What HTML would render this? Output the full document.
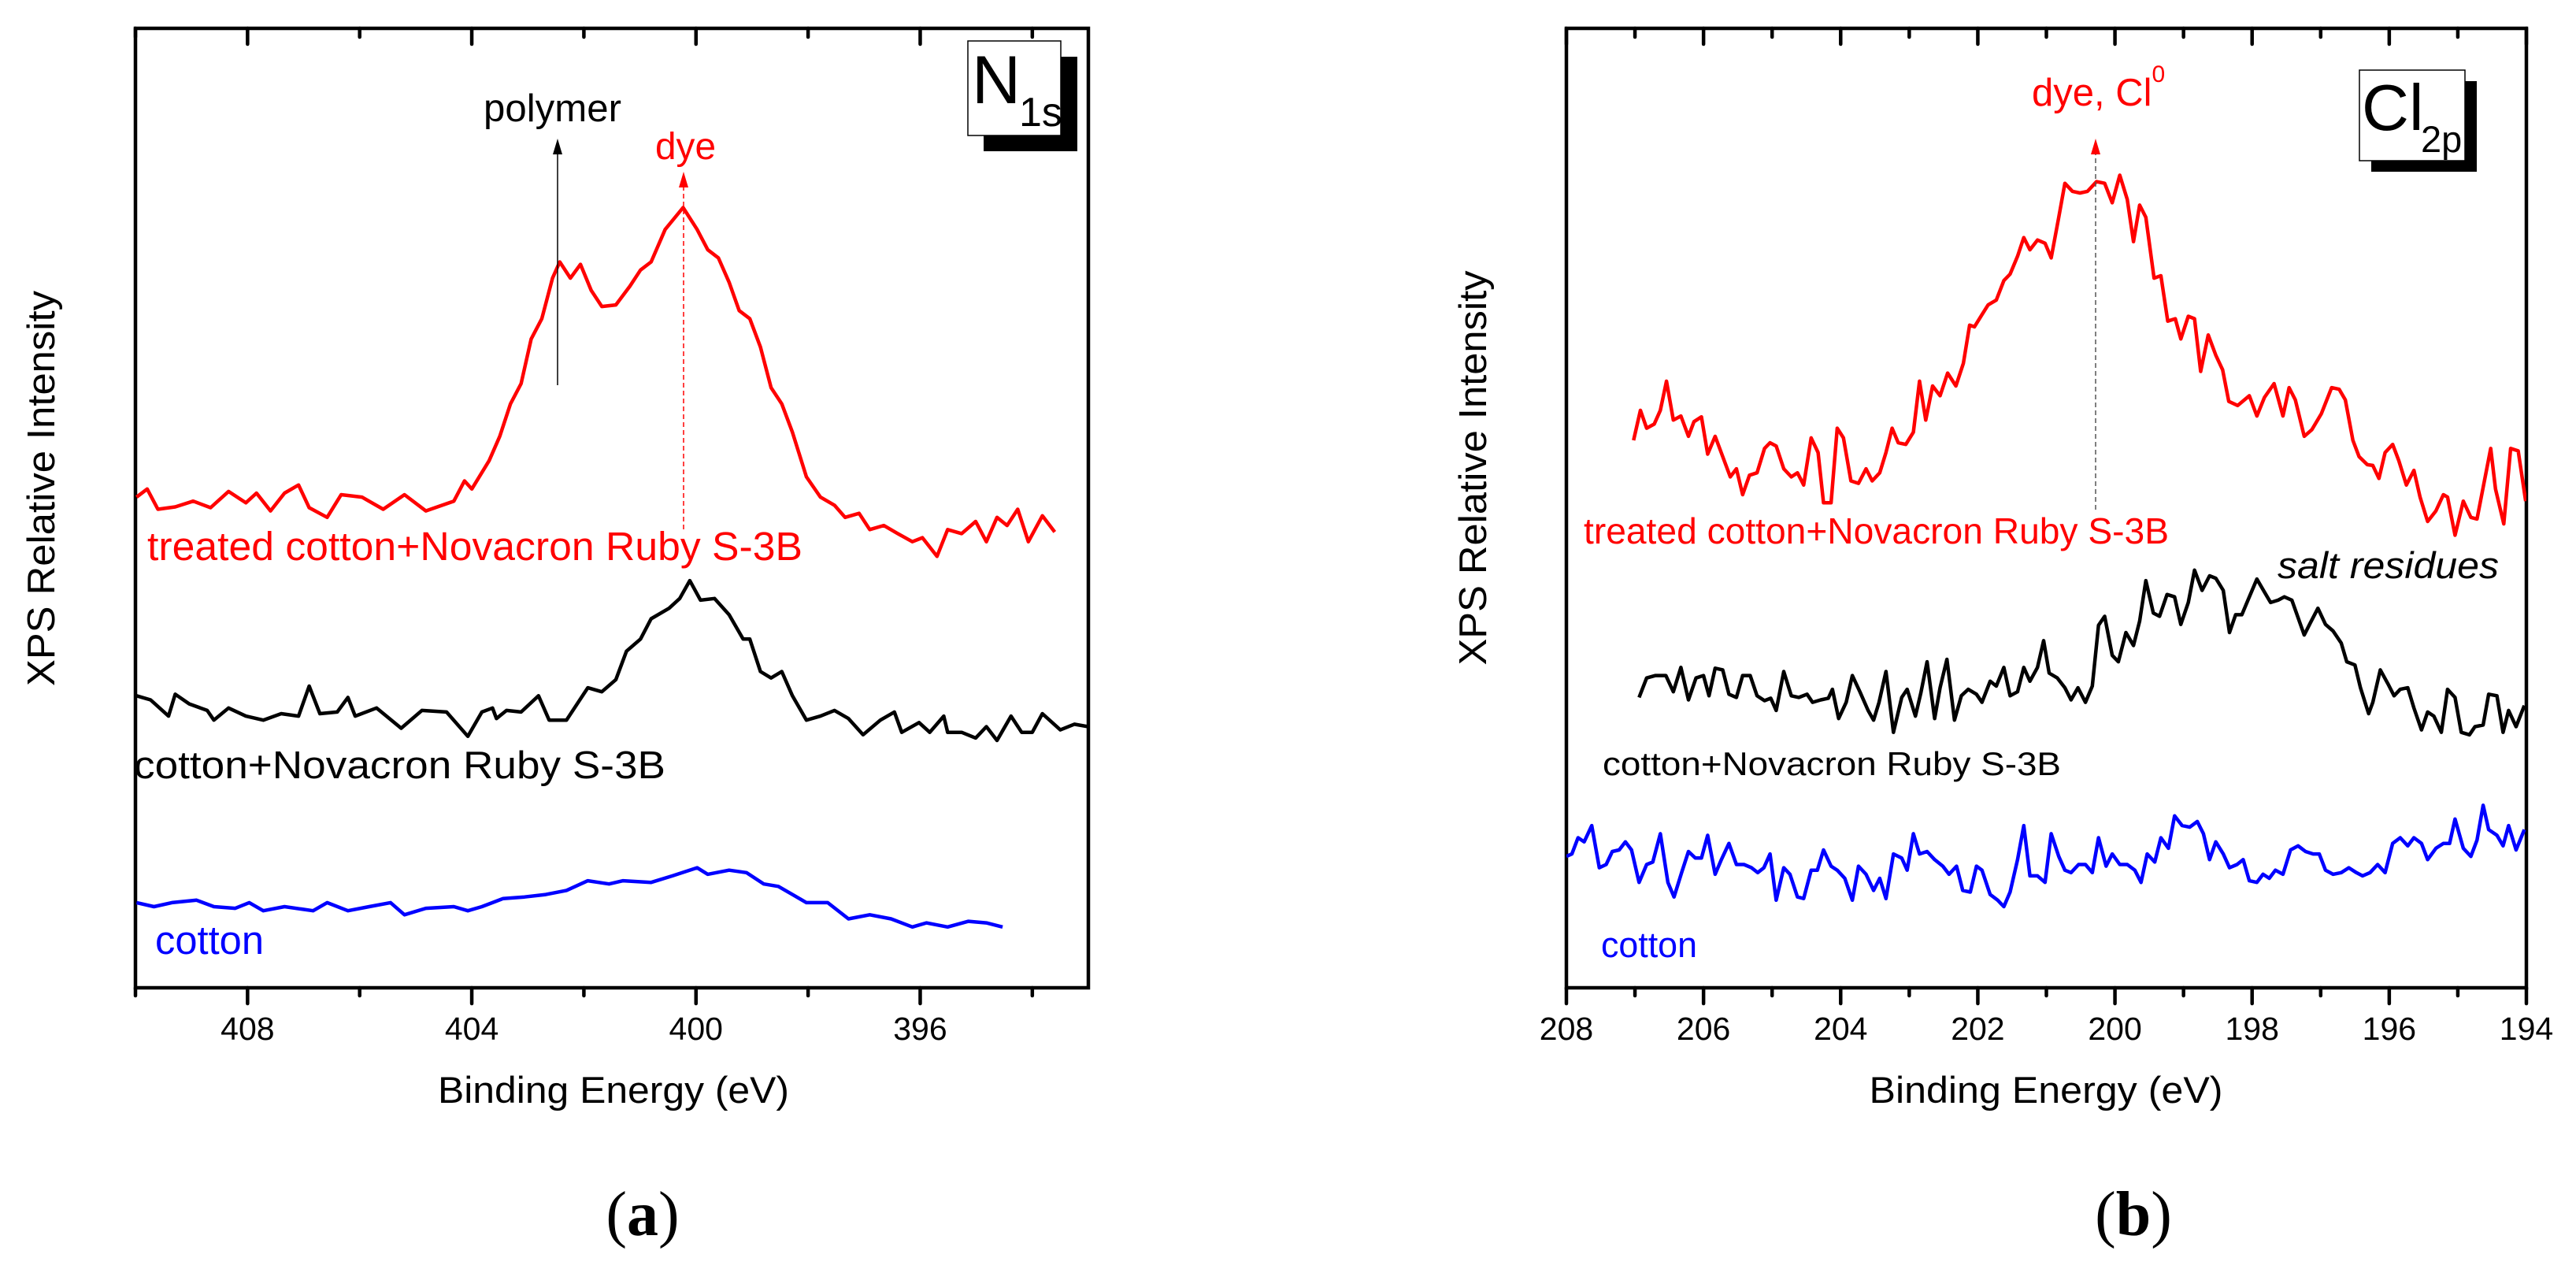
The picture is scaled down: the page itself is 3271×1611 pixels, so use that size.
<!DOCTYPE html>
<html><head><meta charset="utf-8"><style>
html,body{margin:0;padding:0;background:#fff;}
svg{display:block;font-family:"Liberation Sans",Arial,sans-serif;}
</style></head><body>
<svg id="fig" xmlns="http://www.w3.org/2000/svg" width="3271" height="1611" viewBox="0 0 3271 1611">
<defs>
<clipPath id="clipL"><rect x="172" y="36" width="1210" height="1218"/></clipPath>
<clipPath id="clipR"><rect x="1989" y="36" width="1219" height="1218"/></clipPath>
</defs>
<g id="panelA"></g>
<g id="panelB"></g>
</svg>
<script>
// ===== Panel (a) N1s data =====
const n1sRedE=[409.98,409.79,409.60,409.29,408.97,408.66,408.34,408.03,407.84,407.59,407.34,407.09,406.90,406.58,406.33,405.96,405.58,405.20,404.82,404.32,404.13,404.00,403.69,403.50,403.31,403.12,402.94,402.75,402.56,402.43,402.24,402.06,401.87,401.68,401.43,401.18,400.99,400.80,400.55,400.23,399.98,399.79,399.60,399.41,399.23,399.04,398.85,398.66,398.47,398.28,398.03,397.78,397.53,397.34,397.09,396.90,396.65,396.40,396.14,395.96,395.70,395.51,395.26,395.01,394.82,394.63,394.45,394.26,394.07,393.82,393.60];
const n1sRedI=[782,792,767,770,777,769,789,775,787,765,787,797,769,757,785,782,767,785,765,777,802,792,827,857,897,922,977,1002,1052,1072,1052,1069,1037,1017,1019,1042,1062,1072,1112,1139,1112,1087,1077,1047,1012,1002,967,917,897,862,807,782,772,757,762,742,747,737,727,732,709,742,737,752,727,757,747,767,727,759,739];
const n1sBlackE=[409.98,409.73,409.41,409.29,409.04,408.72,408.60,408.34,408.03,407.72,407.40,407.09,406.90,406.71,406.40,406.21,406.08,405.70,405.26,404.89,404.45,404.07,403.82,403.63,403.56,403.38,403.12,402.81,402.62,402.31,401.93,401.68,401.43,401.24,400.99,400.80,400.48,400.29,400.11,399.92,399.67,399.41,399.16,399.04,398.85,398.66,398.47,398.28,398.03,397.78,397.53,397.28,397.02,396.71,396.46,396.33,396.02,395.83,395.58,395.51,395.26,395.01,394.82,394.63,394.38,394.19,394.00,393.82,393.50,393.25,393.00];
const n1sBlackI=[537,532,512,539,527,519,507,522,512,507,515,512,549,515,517,535,512,522,497,519,517,487,517,522,509,519,517,537,507,507,547,542,557,592,607,632,645,657,679,655,657,637,607,607,567,559,567,537,507,512,519,509,489,507,517,492,504,492,512,492,492,485,499,482,512,492,492,515,495,502,499];
const n1sBlueE=[409.98,409.67,409.35,408.91,408.60,408.22,407.97,407.72,407.34,406.83,406.58,406.21,405.83,405.45,405.20,404.82,404.32,404.07,403.82,403.44,403.06,402.68,402.31,401.93,401.55,401.30,400.80,400.42,399.98,399.79,399.41,399.10,398.79,398.53,398.28,398.03,397.65,397.28,396.90,396.52,396.14,395.89,395.51,395.14,394.82,394.53];
const n1sBlueI=[282,277,282,285,277,275,282,272,277,272,282,272,277,282,267,275,277,272,277,287,289,292,297,309,305,309,307,315,325,317,322,319,305,302,292,282,282,262,267,262,252,257,252,259,257,252];
const n1sMajorTicks=[408,404,400,396];
const n1sMinorTicks=[410,406,402,398,394];
const n1sTickLabels=["408","404","400","396"];

// ===== Panel (b) Cl2p data =====
const clRedE=[207.02,206.92,206.83,206.72,206.63,206.54,206.44,206.33,206.22,206.14,206.03,205.94,205.83,205.72,205.61,205.52,205.43,205.33,205.22,205.11,205.03,204.94,204.83,204.72,204.63,204.54,204.43,204.33,204.25,204.14,204.05,203.96,203.85,203.74,203.63,203.54,203.43,203.34,203.25,203.16,203.05,202.94,202.85,202.76,202.66,202.55,202.44,202.32,202.21,202.12,202.05,201.94,201.85,201.73,201.62,201.53,201.42,201.33,201.24,201.13,201.02,200.93,200.82,200.73,200.62,200.51,200.40,200.27,200.15,200.04,199.93,199.82,199.73,199.64,199.55,199.43,199.33,199.23,199.12,199.04,198.93,198.84,198.75,198.64,198.53,198.43,198.34,198.21,198.04,197.93,197.82,197.68,197.55,197.46,197.37,197.24,197.13,196.99,196.84,196.73,196.64,196.53,196.44,196.32,196.24,196.15,196.06,195.95,195.86,195.75,195.64,195.55,195.44,195.32,195.21,195.15,195.04,194.92,194.81,194.72,194.52,194.45,194.33,194.23,194.12,194.01];
const clRedI=[675,712,690,695,712,748,700,705,680,698,704,658,680,655,630,640,608,632,635,665,672,668,640,630,635,620,678,660,598,598,690,678,625,622,640,625,635,660,690,672,670,685,748,700,742,730,758,742,770,817,815,830,842,848,872,880,902,925,910,922,918,900,950,992,982,980,982,994,992,968,1002,972,920,965,950,875,878,822,825,800,828,825,760,805,780,762,723,718,730,705,728,745,705,740,725,680,688,708,740,738,725,675,655,645,644,628,660,670,650,620,638,605,575,588,608,605,558,600,580,578,665,615,572,665,662,600];
const clBlackE=[206.94,206.83,206.70,206.55,206.44,206.33,206.22,206.11,206.00,205.92,205.83,205.72,205.63,205.52,205.43,205.32,205.22,205.11,205.02,204.94,204.83,204.72,204.61,204.49,204.41,204.29,204.18,204.12,204.03,203.92,203.83,203.72,203.60,203.52,203.44,203.34,203.23,203.11,203.03,202.91,202.83,202.74,202.63,202.55,202.45,202.34,202.24,202.14,202.02,201.94,201.82,201.73,201.62,201.53,201.42,201.33,201.24,201.13,201.04,200.96,200.84,200.73,200.64,200.54,200.43,200.33,200.24,200.15,200.04,199.95,199.84,199.73,199.64,199.55,199.44,199.35,199.24,199.13,199.04,198.93,198.84,198.73,198.62,198.53,198.42,198.33,198.24,198.15,198.04,197.93,197.82,197.73,197.62,197.53,197.42,197.24,197.15,197.04,196.93,196.82,196.70,196.62,196.50,196.42,196.30,196.24,196.13,196.02,195.93,195.84,195.73,195.64,195.53,195.44,195.35,195.24,195.15,195.04,194.95,194.83,194.75,194.63,194.55,194.43,194.34,194.26,194.15,194.03];
const clBlackI=[358,382,385,385,365,395,355,382,385,360,394,392,362,358,385,385,360,354,357,342,390,360,358,362,352,355,357,368,332,352,385,365,342,330,352,390,315,358,368,335,364,402,332,370,405,330,360,368,362,352,378,372,395,360,365,395,378,395,428,388,382,370,355,370,352,372,447,458,410,402,438,422,452,502,462,458,485,482,448,475,515,490,508,505,490,438,460,460,482,504,488,475,478,482,478,435,450,468,448,440,425,402,398,370,338,352,392,375,360,368,370,345,318,340,335,315,368,358,315,312,322,324,362,360,315,342,322,348];
const clBlueE=[208.00,207.92,207.83,207.74,207.63,207.52,207.42,207.33,207.23,207.14,207.05,206.94,206.83,206.74,206.63,206.52,206.43,206.32,206.22,206.12,206.03,205.94,205.83,205.74,205.63,205.52,205.41,205.30,205.21,205.12,205.03,204.94,204.83,204.74,204.63,204.54,204.43,204.34,204.25,204.14,204.05,203.94,203.83,203.74,203.63,203.52,203.43,203.34,203.23,203.11,203.03,202.94,202.85,202.74,202.63,202.51,202.42,202.31,202.22,202.11,202.02,201.94,201.82,201.71,201.62,201.53,201.42,201.33,201.24,201.13,201.02,200.93,200.82,200.73,200.64,200.53,200.43,200.33,200.24,200.13,200.04,199.93,199.82,199.71,199.62,199.53,199.42,199.33,199.22,199.13,199.02,198.91,198.80,198.71,198.62,198.53,198.42,198.33,198.22,198.13,198.04,197.93,197.84,197.75,197.66,197.55,197.44,197.33,197.22,197.11,197.02,196.93,196.82,196.70,196.59,196.48,196.39,196.28,196.17,196.06,195.95,195.84,195.73,195.64,195.53,195.44,195.32,195.21,195.12,195.04,194.92,194.81,194.72,194.63,194.55,194.43,194.34,194.26,194.15,194.03];
const clBlueI=[162,165,185,180,200,148,152,168,170,180,170,130,152,155,190,130,112,142,168,160,160,188,140,158,178,152,152,148,142,148,165,108,148,140,112,110,145,145,170,150,145,135,108,150,140,120,135,110,165,160,145,190,165,168,158,150,140,150,120,118,150,145,115,108,100,118,158,200,138,138,130,190,162,145,142,152,152,142,185,150,165,152,152,145,130,165,155,185,172,212,200,198,205,190,158,180,165,148,152,158,132,130,140,135,145,140,170,175,168,165,165,145,140,142,148,142,138,142,152,142,178,185,175,185,178,158,172,178,178,208,172,162,182,225,195,188,175,200,170,195];
const clMajorTicks=[208,206,204,202,200,198,196,194];
const clMinorTicks=[207,205,203,201,199,197,195];
const clTickLabels=["208","206","204","202","200","198","196","194"];

const NS="http://www.w3.org/2000/svg";
function mk(parent,tag,attrs,text){const e=document.createElementNS(NS,tag);for(const k in attrs)e.setAttribute(k,attrs[k]);if(text!==undefined)e.textContent=text;parent.appendChild(e);return e;}

// axis functions
const Y0=1254,Y1=36;
function xA(E){return 172+(410-E)*(1210/17);}
function yA(I){return Y0-(I-177)*(1218/1183);}
function xB(E){return 1989+(208-E)*(1219/14);}
function yB(I){return Y0-I*(1218/1183);}

function line(g,E,I,xf,yf,color,clip,name){
  let d="";for(let i=0;i<E.length;i++){d+=(i?"L":"M")+xf(E[i]).toFixed(1)+" "+yf(I[i]).toFixed(1);}
  const p=mk(g,"path",{d:d,fill:"none",stroke:color,"stroke-width":4.5,"stroke-linejoin":"round","clip-path":"url(#"+clip+")"});
  
  
}

function frame(g,x0,x1,major,minor,labels,xf){
  const r=mk(g,"rect",{x:x0,y:Y1,width:x1-x0,height:Y0-Y1,fill:"none",stroke:"#000","stroke-width":4.5});
  
  
  major.forEach((v,i)=>{const x=xf(v);
    const t=mk(g,"line",{x1:x,y1:Y0,x2:x,y2:Y0+20,stroke:"#000","stroke-width":4.5,"stroke-linecap":"round"});
    
    
    mk(g,"line",{x1:x,y1:Y1,x2:x,y2:Y1+20,stroke:"#000","stroke-width":4.5,"stroke-linecap":"round"});
    const l=mk(g,"text",{x:x,y:1320,"font-size":41,"text-anchor":"middle"},labels[i]);
    
    
  });
  minor.forEach(v=>{const x=xf(v);
    const t=mk(g,"line",{x1:x,y1:Y0,x2:x,y2:Y0+10,stroke:"#000","stroke-width":4.5,"stroke-linecap":"round"});
    
    
    mk(g,"line",{x1:x,y1:Y1,x2:x,y2:Y1+11,stroke:"#000","stroke-width":4.5,"stroke-linecap":"round"});
  });
}
function txt(g,attrs,s,name){const t=mk(g,"text",attrs,s);return t;}

// ===== Panel A =====
const A=document.getElementById("panelA");
frame(A,172,1382,n1sMajorTicks,n1sMinorTicks,n1sTickLabels,xA);
line(A,n1sRedE,n1sRedI,xA,yA,"#ff0000","clipL","treated-cotton-n1s-line");
line(A,n1sBlackE,n1sBlackI,xA,yA,"#000000","clipL","cotton-dye-n1s-line");
line(A,n1sBlueE,n1sBlueI,xA,yA,"#0000ff","clipL","cotton-n1s-line");
txt(A,{x:187,y:711,"font-size":51,fill:"#ff0000",textLength:832,lengthAdjust:"spacingAndGlyphs"},"treated cotton+Novacron Ruby S-3B","treated-cotton-label");
txt(A,{x:170,y:988,"font-size":49,fill:"#000",textLength:675,lengthAdjust:"spacingAndGlyphs"},"cotton+Novacron Ruby S-3B","cotton-dye-label");
txt(A,{x:197,y:1211,"font-size":51,fill:"#0000ff",textLength:138,lengthAdjust:"spacingAndGlyphs"},"cotton","cotton-label");
// polymer arrow
mk(A,"line",{x1:708,y1:489,x2:708,y2:190,stroke:"#000","stroke-width":1.5});
mk(A,"polygon",{points:"708,176 702,196 714,196",fill:"#000"});
txt(A,{x:614,y:154,"font-size":49,fill:"#000",textLength:175,lengthAdjust:"spacingAndGlyphs"},"polymer","polymer-annotation");
// dye arrow
mk(A,"line",{x1:868,y1:672,x2:868,y2:232,stroke:"#ff0000","stroke-width":1.5,"stroke-dasharray":"6,4"});
mk(A,"polygon",{points:"868,218 862,238 874,238",fill:"#ff0000"});
txt(A,{x:832,y:202,"font-size":48,fill:"#ff0000",textLength:77,lengthAdjust:"spacingAndGlyphs"},"dye","dye-annotation");
// N1s box
mk(A,"rect",{x:1249,y:72,width:119,height:120,fill:"#000"});
mk(A,"rect",{x:1229,y:52,width:118,height:120,fill:"#fff",stroke:"#000","stroke-width":1.5});
const tn=txt(A,{x:1234,y:131,"font-size":86,fill:"#000"},"N","n1s-badge");
mk(A,"text",{x:1294,y:160,"font-size":52,fill:"#000"},"1s");
txt(A,{x:779,y:1400,"font-size":47,"text-anchor":"middle",textLength:446,lengthAdjust:"spacingAndGlyphs"},"Binding Energy (eV)","x-axis-title-a");
txt(A,{x:0,y:0,"font-size":49,"text-anchor":"middle",transform:"translate(69,620) rotate(-90)",textLength:502,lengthAdjust:"spacingAndGlyphs"},"XPS Relative Intensity","y-axis-title-a");
const la=txt(A,{x:816,y:1568,"font-size":80,"text-anchor":"middle","font-family":"Liberation Serif, serif"},"","panel-label-a");
la.innerHTML='(<tspan font-weight="bold">a</tspan>)';

// ===== Panel B =====
const B=document.getElementById("panelB");
frame(B,1989,3208,clMajorTicks,clMinorTicks,clTickLabels,xB);
line(B,clRedE,clRedI,xB,yB,"#ff0000","clipR","treated-cotton-cl2p-line");
line(B,clBlackE,clBlackI,xB,yB,"#000000","clipR","cotton-dye-cl2p-line");
line(B,clBlueE,clBlueI,xB,yB,"#0000ff","clipR","cotton-cl2p-line");
txt(B,{x:2011,y:690,"font-size":46,fill:"#ff0000",textLength:743,lengthAdjust:"spacingAndGlyphs"},"treated cotton+Novacron Ruby S-3B","treated-cotton-label-b");
txt(B,{x:2892,y:734,"font-size":47,fill:"#000","font-style":"italic",textLength:281,lengthAdjust:"spacingAndGlyphs"},"salt residues","salt-residues-annotation");
txt(B,{x:2035,y:984,"font-size":42,fill:"#000",textLength:582,lengthAdjust:"spacingAndGlyphs"},"cotton+Novacron Ruby S-3B","cotton-dye-label-b");
txt(B,{x:2033,y:1215,"font-size":45,fill:"#0000ff",textLength:122,lengthAdjust:"spacingAndGlyphs"},"cotton","cotton-label-b");
mk(B,"line",{x1:2661,y1:647,x2:2661,y2:192,stroke:"#555","stroke-width":1.5,"stroke-dasharray":"6,4"});
mk(B,"polygon",{points:"2661,176 2655,196 2667,196",fill:"#ff0000"});
const dc=txt(B,{x:2580,y:134,"font-size":49,fill:"#ff0000"},"","dye-cl0-annotation");
dc.innerHTML='dye, Cl<tspan font-size="30" dy="-30">0</tspan>';
mk(B,"rect",{x:3011,y:103,width:134,height:115,fill:"#000"});
mk(B,"rect",{x:2996,y:89,width:134,height:115,fill:"#fff",stroke:"#000","stroke-width":1.5});
txt(B,{x:2999,y:165,"font-size":83,fill:"#000"},"Cl","cl2p-badge");
mk(B,"text",{x:3074,y:193,"font-size":47,fill:"#000"},"2p");
txt(B,{x:2598,y:1400,"font-size":47,"text-anchor":"middle",textLength:449,lengthAdjust:"spacingAndGlyphs"},"Binding Energy (eV)","x-axis-title-b");
txt(B,{x:0,y:0,"font-size":49,"text-anchor":"middle",transform:"translate(1887,594) rotate(-90)",textLength:501,lengthAdjust:"spacingAndGlyphs"},"XPS Relative Intensity","y-axis-title-b");
const lb=txt(B,{x:2709,y:1568,"font-size":80,"text-anchor":"middle","font-family":"Liberation Serif, serif"},"","panel-label-b");
lb.innerHTML='(<tspan font-weight="bold">b</tspan>)';
</script>
</body></html>
